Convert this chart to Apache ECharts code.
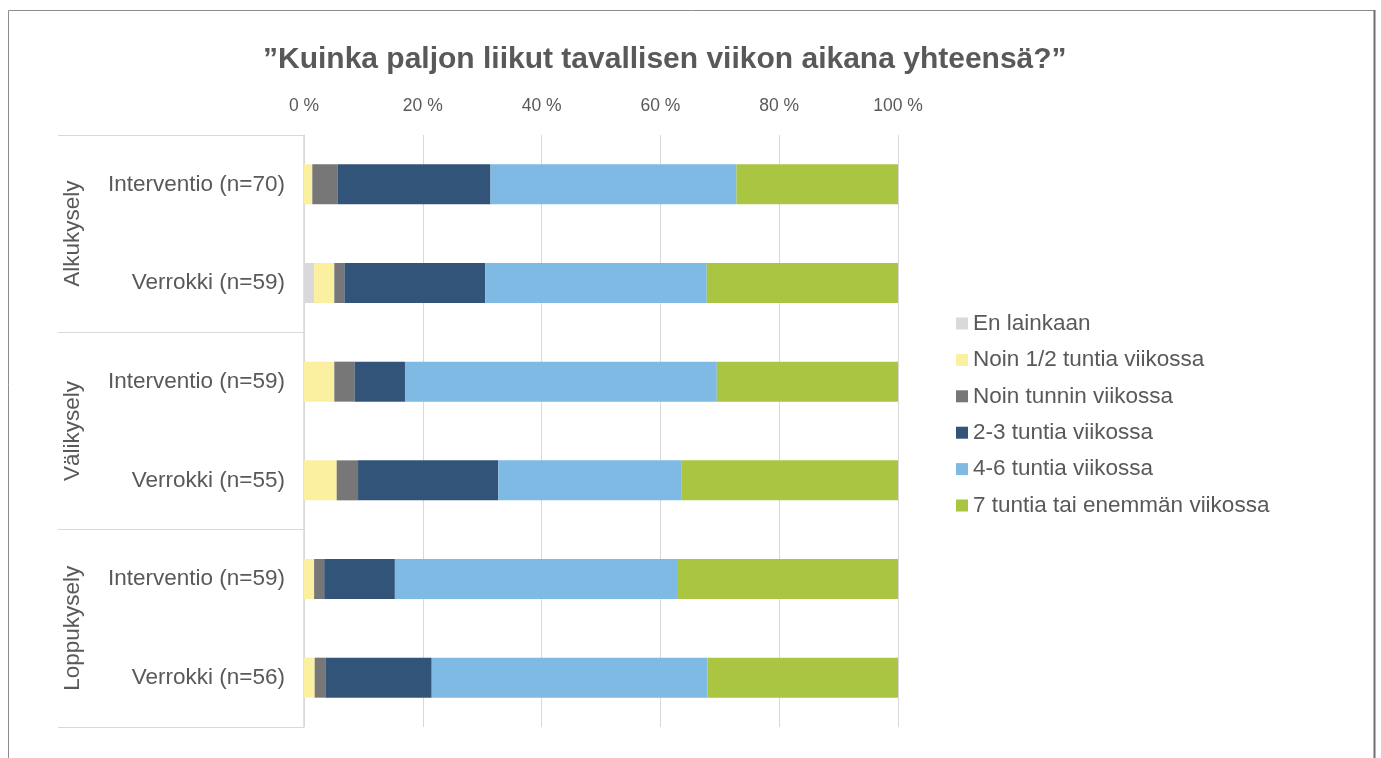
<!DOCTYPE html>
<html>
<head>
<meta charset="utf-8">
<script src="https://cdn.jsdelivr.net/npm/echarts@6/dist/echarts.min.js"></script>
<style>
html,body{margin:0;padding:0;background:#fff;}
#c{width:1381px;height:758px;}
</style>
</head>
<body>
<div id="c"></div>
<script>
var titleText = '\u201DKuinka paljon liikut tavallisen viikon aikana yhteens\u00E4?\u201D';
var categories = ['Interventio (n=70)','Verrokki (n=59)','Interventio (n=59)','Verrokki (n=55)','Interventio (n=59)','Verrokki (n=56)'];
var groups = ['Alkukysely','V\u00E4likysely','Loppukysely'];
var seriesNames = ['En lainkaan','Noin 1/2 tuntia viikossa','Noin tunnin viikossa','2-3 tuntia viikossa','4-6 tuntia viikossa','7 tuntia tai enemm\u00E4n viikossa'];
var enLainkaan = [0, 1.7, 0, 0, 0, 0];
var puoliTuntia = [1.4, 3.4, 5.1, 5.5, 1.7, 1.8];
var tunti = [4.3, 1.7, 3.4, 3.6, 1.7, 1.8];
var kaksiKolme = [25.7, 23.7, 8.5, 23.6, 11.9, 17.9];
var neljaKuusi = [41.4, 37.3, 52.5, 30.9, 47.5, 46.4];
var seitseman = [27.2, 32.2, 30.5, 36.4, 37.2, 32.1];
var xTicks = [0, 20, 40, 60, 80, 100];

var colors = ['#D9D9DC','#FAF0A0','#777777','#335479','#7EBAE4','#A9C542'];
var values = [enLainkaan, puoliTuntia, tunti, kaksiKolme, neljaKuusi, seitseman];
var txt = '#595959';
var font = 'Liberation Sans, Arial, sans-serif';

var chart = echarts.init(document.getElementById('c'));
chart.setOption({
  animation: false,
  textStyle: {fontFamily: font},
  title: {
    text: titleText, left: 258, top: 40,
    textStyle: {fontSize: 30, fontWeight: 'bold', color: txt, fontFamily: font}
  },
  graphic: [{
    type: 'rect', silent: true,
    shape: {x: 8.5, y: 10.5, width: 1366, height: 800},
    style: {fill: 'none', stroke: '#8C8C8C', lineWidth: 1}
  }, {
    type: 'line', silent: true,
    shape: {x1: 1374.5, y1: 10, x2: 1374.5, y2: 758},
    style: {stroke: '#6E6E6E', lineWidth: 2}
  }],
  legend: {
    orient: 'vertical', left: 951, top: 307,
    itemWidth: 12, itemHeight: 12, itemGap: 13.4, icon: 'rect',
    textStyle: {fontSize: 22.5, color: txt, fontFamily: font},
    data: seriesNames
  },
  grid: {left: 304, right: 483, top: 135, bottom: 31, containLabel: false},
  xAxis: {
    type: 'value', position: 'top', min: 0, max: 100, interval: 20,
    axisLine: {show: false}, axisTick: {show: false},
    axisLabel: {
      color: txt, fontSize: 17.5, margin: 20, fontFamily: font,
      formatter: function (v) { return xTicks.indexOf(v) >= 0 ? v + ' %' : ''; }
    },
    splitLine: {show: true, lineStyle: {color: '#D9D9D9', width: 1}}
  },
  yAxis: [{
    type: 'category', inverse: true, data: categories,
    axisLine: {show: true, lineStyle: {color: '#D9D9D9', width: 1.5}},
    axisTick: {show: false},
    axisLabel: {color: txt, fontSize: 22.5, margin: 19, fontFamily: font}
  }, {
    type: 'category', inverse: true, data: groups, position: 'left', offset: 246,
    axisLine: {show: false},
    axisTick: {show: true, inside: true, length: 246, lineStyle: {color: '#D9D9D9', width: 1}},
    axisLabel: {inside: true, rotate: 90, color: txt, fontSize: 22.5, margin: 3, fontFamily: font}
  }],
  series: seriesNames.map(function (n, i) {
    return {
      name: n, type: 'bar', stack: 'total', yAxisIndex: 0, barWidth: 40,
      itemStyle: {color: colors[i]}, data: values[i]
    };
  })
});
</script>
</body>
</html>
